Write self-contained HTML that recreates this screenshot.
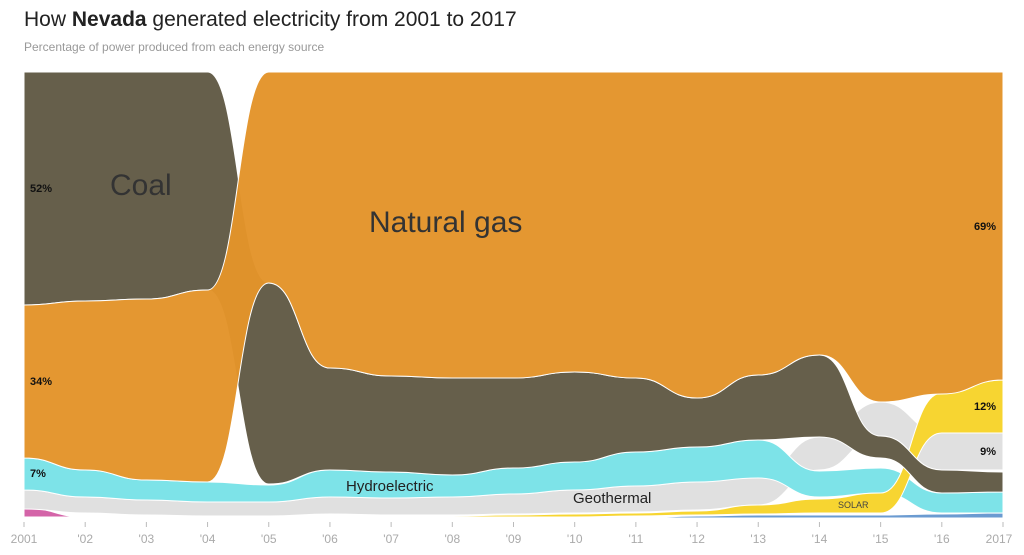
<!DOCTYPE html>
<html><head><meta charset="utf-8"><style>
body{margin:0;background:#fff;font-family:"Liberation Sans",sans-serif;}
svg{display:block}
</style></head><body>
<svg id="s" width="1024" height="555" xmlns="http://www.w3.org/2000/svg">
<text x="24" y="26" font-size="21" fill="#222">How <tspan font-weight="bold">Nevada</tspan> generated electricity from 2001 to 2017</text>
<text x="24" y="51" font-size="12" fill="#999">Percentage of power produced from each energy source</text>
<g id="areas"></g>
<g font-size="11" fill="#111" font-weight="bold">
<text x="30" y="192">52%</text>
<text x="30" y="385">34%</text>
<text x="30" y="477">7%</text>
<text x="996" y="230" text-anchor="end">69%</text>
<text x="996" y="410" text-anchor="end">12%</text>
<text x="996" y="455" text-anchor="end">9%</text>
</g>
<text x="110" y="195" font-size="30" fill="#333">Coal</text>
<text x="369" y="232" font-size="30" fill="#333">Natural gas</text>
<text x="346" y="491" font-size="15" fill="#222">Hydroelectric</text>
<text x="573" y="503" font-size="15" fill="#222">Geothermal</text>
<text x="838" y="508" font-size="9" fill="#444">SOLAR</text>
<g id="axis" font-size="12" fill="#aaa" text-anchor="middle"></g>
</svg>
<script>
var X=[];for(var i=0;i<17;i++)X.push(24+i*(979/16));
function band(top,bot,col,op){
  function seg(ys,rev){
    var d="",n=ys.length,idx=[];for(var i=0;i<n;i++)idx.push(rev?n-1-i:i);
    for(var k=0;k<n;k++){var i=idx[k];
      if(k==0){d+=(rev?"L":"M")+X[i]+","+ys[i];}
      else{var p=idx[k-1],m=(X[p]+X[i])/2;d+="C"+m+","+ys[p]+" "+m+","+ys[i]+" "+X[i]+","+ys[i];}
    }return d;}
  var p=document.createElementNS("http://www.w3.org/2000/svg","path");
  p.setAttribute("d",seg(top,false)+seg(bot,true)+"Z");
  p.setAttribute("fill",col);p.setAttribute("stroke","#fff");p.setAttribute("stroke-width","1");
  if(op)p.setAttribute("fill-opacity",op);
  document.getElementById("areas").appendChild(p);
}
band([508,517,518,518,518,518,518,518,518,518,518,518,518,518,518,518,518],[518,518,518,518,518,518,518,518,518,518,518,518,518,518,518,518,518],"#d464a8");
band([518,518,518,518,518,518,518,518,518,518,518,516,515,515,515,514,513],[518,518,518,518,518,518,518,518,518,518,518,518,518,518,518,518,518],"#6b9bd1");
band([490,497,500,502,502,497,498,497,494,490,486,482,476,437,402,433,433],[509,513,515,516,516,514,515,515,514,513,512,510,505,470,436,470,470],"#e0e0e0");
band([458,470,480,482,485,470,472,475,468,462,452,447,440,471,468,493,492],[490,497,500,502,502,497,498,497,494,490,486,482,478,497,493,513,513],"#7de3e8");
band([517,517,517,517,517,517,517,516,515,514,513,511,505,499,493,393,380],[517,517,517,517,517,517,517,517,517,517,516,515,514,513,513,433,433],"#f7d531");
band([72,72,72,72,283,368,376,378,378,372,378,398,375,355,436,470,472],[305,301,299,290,484,470,472,475,468,462,452,447,440,437,458,493,492],"#665f4b");
band([305,301,299,290,72,72,72,72,72,72,72,72,72,72,72,72,72],[458,470,480,482,283,368,376,378,378,372,378,398,375,355,402,394,380],"#e3942a",0.97);
var ax=document.getElementById("axis"),lab=["2001","'02","'03","'04","'05","'06","'07","'08","'09","'10","'11","'12","'13","'14","'15","'16","2017"];
for(var i=0;i<17;i++){
 var l=document.createElementNS("http://www.w3.org/2000/svg","line");
 l.setAttribute("x1",X[i]);l.setAttribute("x2",X[i]);l.setAttribute("y1",522);l.setAttribute("y2",527);l.setAttribute("stroke","#bbb");ax.appendChild(l);
 var t=document.createElementNS("http://www.w3.org/2000/svg","text");
 t.setAttribute("x",X[i]+(i==16?-4:0));t.setAttribute("y",543);t.textContent=lab[i];ax.appendChild(t);
}
</script>
</body></html>
